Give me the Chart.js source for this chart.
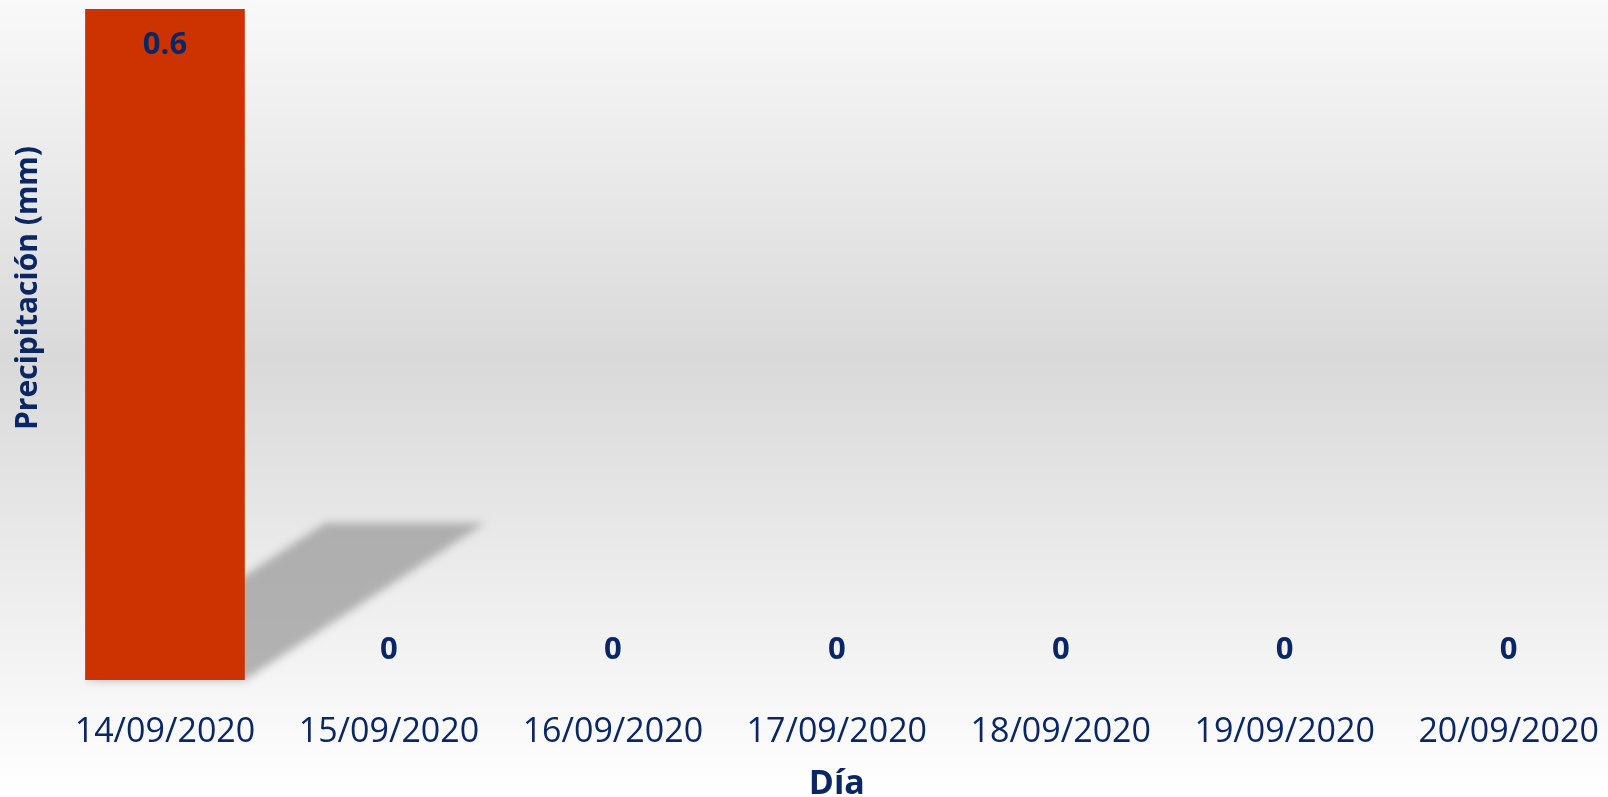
<!DOCTYPE html>
<html>
<head>
<meta charset="utf-8">
<script src="https://cdn.jsdelivr.net/npm/chart.js@4/dist/chart.umd.min.js"></script>
<style>
  html, body { margin: 0; padding: 0; background: #fff; overflow: hidden; }
  /* el area del grafico sigue un poco mas alla del borde derecho, como en el original */
  #wrap { width: 1626px; height: 797px; }
</style>
</head>
<body>
<div id="wrap"><canvas id="grafica"></canvas></div>
<script>
// datos de la grafica
const dias = ['14/09/2020', '15/09/2020', '16/09/2020', '17/09/2020', '18/09/2020', '19/09/2020', '20/09/2020']
const precipitacion = [0.6, 0, 0, 0, 0, 0, 0]
const yMin = 0
const yMax = 0.6
const tituloY = 'Precipitación (mm)'
const tituloX = 'Día'

const azul = '#0B2763'
const fuente = "'Open Sans', 'Noto Sans', sans-serif"

// fondo degradado
const fondo = {
    id: 'fondo',
    beforeDraw(chart) {
        const ctx = chart.ctx
        const g = ctx.createLinearGradient(0, 0, 0, chart.height)
        g.addColorStop(0, '#f9f9f9')
        g.addColorStop(0.45, '#d9d9d9')
        g.addColorStop(1, '#ffffff')
        ctx.save()
        ctx.fillStyle = g
        ctx.fillRect(0, 0, chart.width, chart.height)
        ctx.restore()
    }
}

// sombra en perspectiva detras de las barras
const sombra = {
    id: 'sombra',
    beforeDatasetsDraw(chart) {
        const ctx = chart.ctx
        const meta = chart.getDatasetMeta(0)
        ctx.save()
        ctx.filter = 'blur(4px)'
        ctx.fillStyle = 'rgba(150,150,150,0.7)'
        meta.data.forEach(bar => {
            const h = bar.base - bar.y
            if (h <= 0) return
            const izq = bar.x - bar.width / 2
            const der = bar.x + bar.width / 2
            const dx = h * 0.358
            const dy = h * 0.234
            ctx.beginPath()
            ctx.moveTo(izq, bar.base)
            ctx.lineTo(der, bar.base)
            ctx.lineTo(der + dx, bar.base - dy)
            ctx.lineTo(izq + dx, bar.base - dy)
            ctx.closePath()
            ctx.fill()
        })
        ctx.restore()
    }
}

// etiquetas de valor y titulo del eje Y (Excel lo pone algo mas arriba del centro)
const etiquetas = {
    id: 'etiquetas',
    afterDatasetsDraw(chart) {
        const ctx = chart.ctx
        const meta = chart.getDatasetMeta(0)
        ctx.save()
        ctx.font = 'bold 31px ' + fuente
        ctx.fillStyle = azul
        ctx.textAlign = 'center'
        ctx.textBaseline = 'middle'
        meta.data.forEach((bar, i) => {
            const v = precipitacion[i]
            const y = v > 0 ? bar.y + 36 : bar.y - 30
            ctx.fillText(String(v), bar.x, y)
        })

        ctx.translate(28, 288)
        ctx.rotate(-Math.PI / 2)
        ctx.font = 'bold 30px ' + fuente
        ctx.fillText(tituloY, 0, 0)
        ctx.restore()
    }
}

const ctx = document.getElementById('grafica').getContext('2d')
let chart = new Chart(ctx, {
    type: 'bar',
    data: {
        labels: dias,
        datasets: [{
            label: tituloY,
            data: precipitacion,
            backgroundColor: '#CC3300',
            barPercentage: 0.713,
            categoryPercentage: 1
        }]
    },
    options: {
        responsive: true,
        maintainAspectRatio: false,
        animation: false,
        layout: { padding: { top: 9, left: 53, right: 2, bottom: 0 } },
        plugins: {
            legend: { display: false },
            tooltip: { enabled: false }
        },
        scales: {
            x: {
                grid: { display: false },
                border: { display: false },
                ticks: {
                    color: azul,
                    font: { family: fuente, size: 34, lineHeight: 1 },
                    padding: 27,
                    maxRotation: 0
                },
                title: {
                    display: true,
                    text: tituloX,
                    color: azul,
                    font: { family: fuente, size: 34, weight: 'bold', lineHeight: 1 },
                    padding: { top: -9, bottom: -4 }
                }
            },
            y: {
                display: false,
                min: yMin,
                max: yMax
            }
        }
    },
    plugins: [fondo, sombra, etiquetas]
})
</script>
</body>
</html>
